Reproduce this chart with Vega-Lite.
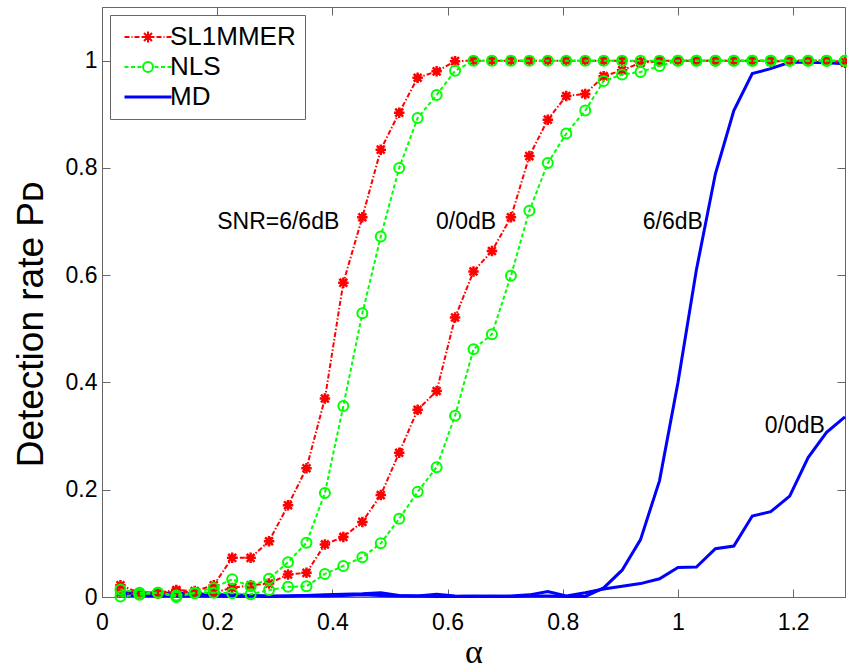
{
  "$schema": "https://vega.github.io/schema/vega-lite/v6.json",
  "width": 743,
  "height": 590,
  "autosize": "none",
  "padding": {"left": 102, "top": 7, "right": 2, "bottom": 72},
  "background": "white",
  "config": {
    "font": "Liberation Sans",
    "view": {"stroke": "#666666", "strokeWidth": 1},
    "axis": {
      "grid": false,
      "domainColor": "#666666",
      "tickColor": "#666666",
      "tickSize": -8,
      "labelFont": "Liberation Sans",
      "labelFontSize": 23,
      "labelColor": "#000000",
      "labelFlush": false,
      "labelOverlap": false,
      "titleColor": "#000000",
      "titleFontWeight": "normal"
    }
  },
  "datasets": {
    "curves": [
      {"m":"SL1MMER","s":"6","a":0.032,"p":0.022},{"m":"SL1MMER","s":"6","a":0.065,"p":0.008},{"m":"SL1MMER","s":"6","a":0.097,"p":0.008},{"m":"SL1MMER","s":"6","a":0.129,"p":0.013},{"m":"SL1MMER","s":"6","a":0.161,"p":0.011},{"m":"SL1MMER","s":"6","a":0.194,"p":0.022},{"m":"SL1MMER","s":"6","a":0.226,"p":0.073},{"m":"SL1MMER","s":"6","a":0.258,"p":0.073},{"m":"SL1MMER","s":"6","a":0.29,"p":0.104},{"m":"SL1MMER","s":"6","a":0.323,"p":0.171},
      {"m":"SL1MMER","s":"6","a":0.355,"p":0.24},{"m":"SL1MMER","s":"6","a":0.387,"p":0.37},{"m":"SL1MMER","s":"6","a":0.419,"p":0.586},{"m":"SL1MMER","s":"6","a":0.452,"p":0.708},{"m":"SL1MMER","s":"6","a":0.484,"p":0.834},{"m":"SL1MMER","s":"6","a":0.516,"p":0.903},{"m":"SL1MMER","s":"6","a":0.548,"p":0.968},{"m":"SL1MMER","s":"6","a":0.581,"p":0.98},{"m":"SL1MMER","s":"6","a":0.613,"p":0.999},{"m":"SL1MMER","s":"6","a":0.645,"p":1},
      {"m":"SL1MMER","s":"6","a":0.677,"p":1},{"m":"SL1MMER","s":"6","a":0.71,"p":1},{"m":"SL1MMER","s":"6","a":0.742,"p":1},{"m":"SL1MMER","s":"6","a":0.774,"p":1},{"m":"SL1MMER","s":"6","a":0.806,"p":1},{"m":"SL1MMER","s":"6","a":0.839,"p":1},{"m":"SL1MMER","s":"6","a":0.871,"p":1},{"m":"SL1MMER","s":"6","a":0.903,"p":1},{"m":"SL1MMER","s":"6","a":0.935,"p":0.998},{"m":"SL1MMER","s":"6","a":0.968,"p":1},
      {"m":"SL1MMER","s":"6","a":1.0,"p":1},{"m":"SL1MMER","s":"6","a":1.032,"p":1},{"m":"SL1MMER","s":"6","a":1.065,"p":1},{"m":"SL1MMER","s":"6","a":1.097,"p":1},{"m":"SL1MMER","s":"6","a":1.129,"p":1},{"m":"SL1MMER","s":"6","a":1.161,"p":1},{"m":"SL1MMER","s":"6","a":1.194,"p":1},{"m":"SL1MMER","s":"6","a":1.226,"p":1},{"m":"SL1MMER","s":"6","a":1.258,"p":1},{"m":"SL1MMER","s":"6","a":1.29,"p":0.998},

      {"m":"SL1MMER","s":"0","a":0.032,"p":0.008},{"m":"SL1MMER","s":"0","a":0.065,"p":0.005},{"m":"SL1MMER","s":"0","a":0.097,"p":0.006},{"m":"SL1MMER","s":"0","a":0.129,"p":0.011},{"m":"SL1MMER","s":"0","a":0.161,"p":0.008},{"m":"SL1MMER","s":"0","a":0.194,"p":0.008},{"m":"SL1MMER","s":"0","a":0.226,"p":0.017},{"m":"SL1MMER","s":"0","a":0.258,"p":0.022},{"m":"SL1MMER","s":"0","a":0.29,"p":0.025},{"m":"SL1MMER","s":"0","a":0.323,"p":0.042},
      {"m":"SL1MMER","s":"0","a":0.355,"p":0.045},{"m":"SL1MMER","s":"0","a":0.387,"p":0.098},{"m":"SL1MMER","s":"0","a":0.419,"p":0.112},{"m":"SL1MMER","s":"0","a":0.452,"p":0.14},{"m":"SL1MMER","s":"0","a":0.484,"p":0.19},{"m":"SL1MMER","s":"0","a":0.516,"p":0.269},{"m":"SL1MMER","s":"0","a":0.548,"p":0.349},{"m":"SL1MMER","s":"0","a":0.581,"p":0.384},{"m":"SL1MMER","s":"0","a":0.613,"p":0.521},{"m":"SL1MMER","s":"0","a":0.645,"p":0.607},
      {"m":"SL1MMER","s":"0","a":0.677,"p":0.645},{"m":"SL1MMER","s":"0","a":0.71,"p":0.708},{"m":"SL1MMER","s":"0","a":0.742,"p":0.822},{"m":"SL1MMER","s":"0","a":0.774,"p":0.89},{"m":"SL1MMER","s":"0","a":0.806,"p":0.934},{"m":"SL1MMER","s":"0","a":0.839,"p":0.938},{"m":"SL1MMER","s":"0","a":0.871,"p":0.971},{"m":"SL1MMER","s":"0","a":0.903,"p":0.982},{"m":"SL1MMER","s":"0","a":0.935,"p":0.996},{"m":"SL1MMER","s":"0","a":0.968,"p":0.999},
      {"m":"SL1MMER","s":"0","a":1.0,"p":1},{"m":"SL1MMER","s":"0","a":1.032,"p":1},{"m":"SL1MMER","s":"0","a":1.065,"p":1},{"m":"SL1MMER","s":"0","a":1.097,"p":1},{"m":"SL1MMER","s":"0","a":1.129,"p":1},{"m":"SL1MMER","s":"0","a":1.161,"p":0.998},{"m":"SL1MMER","s":"0","a":1.194,"p":1},{"m":"SL1MMER","s":"0","a":1.226,"p":1},{"m":"SL1MMER","s":"0","a":1.258,"p":1},{"m":"SL1MMER","s":"0","a":1.29,"p":0.996},

      {"m":"NLS","s":"6","a":0.032,"p":0.014},{"m":"NLS","s":"6","a":0.065,"p":0.008},{"m":"NLS","s":"6","a":0.097,"p":0.008},{"m":"NLS","s":"6","a":0.129,"p":0.003},{"m":"NLS","s":"6","a":0.161,"p":0.008},{"m":"NLS","s":"6","a":0.194,"p":0.017},{"m":"NLS","s":"6","a":0.226,"p":0.033},{"m":"NLS","s":"6","a":0.258,"p":0.02},{"m":"NLS","s":"6","a":0.29,"p":0.034},{"m":"NLS","s":"6","a":0.323,"p":0.065},
      {"m":"NLS","s":"6","a":0.355,"p":0.101},{"m":"NLS","s":"6","a":0.387,"p":0.194},{"m":"NLS","s":"6","a":0.419,"p":0.356},{"m":"NLS","s":"6","a":0.452,"p":0.529},{"m":"NLS","s":"6","a":0.484,"p":0.672},{"m":"NLS","s":"6","a":0.516,"p":0.8},{"m":"NLS","s":"6","a":0.548,"p":0.893},{"m":"NLS","s":"6","a":0.581,"p":0.936},{"m":"NLS","s":"6","a":0.613,"p":0.981},{"m":"NLS","s":"6","a":0.645,"p":1},
      {"m":"NLS","s":"6","a":0.677,"p":1},{"m":"NLS","s":"6","a":0.71,"p":1},{"m":"NLS","s":"6","a":0.742,"p":1},{"m":"NLS","s":"6","a":0.774,"p":1},{"m":"NLS","s":"6","a":0.806,"p":1},{"m":"NLS","s":"6","a":0.839,"p":1},{"m":"NLS","s":"6","a":0.871,"p":1},{"m":"NLS","s":"6","a":0.903,"p":1},{"m":"NLS","s":"6","a":0.935,"p":1},{"m":"NLS","s":"6","a":0.968,"p":1},
      {"m":"NLS","s":"6","a":1.0,"p":1},{"m":"NLS","s":"6","a":1.032,"p":1},{"m":"NLS","s":"6","a":1.065,"p":1},{"m":"NLS","s":"6","a":1.097,"p":1},{"m":"NLS","s":"6","a":1.129,"p":1},{"m":"NLS","s":"6","a":1.161,"p":1},{"m":"NLS","s":"6","a":1.194,"p":1},{"m":"NLS","s":"6","a":1.226,"p":1},{"m":"NLS","s":"6","a":1.258,"p":1},{"m":"NLS","s":"6","a":1.29,"p":1},

      {"m":"NLS","s":"0","a":0.032,"p":0.001},{"m":"NLS","s":"0","a":0.065,"p":0.004},{"m":"NLS","s":"0","a":0.097,"p":0.008},{"m":"NLS","s":"0","a":0.129,"p":0.0},{"m":"NLS","s":"0","a":0.161,"p":0.007},{"m":"NLS","s":"0","a":0.194,"p":0.008},{"m":"NLS","s":"0","a":0.226,"p":0.007},{"m":"NLS","s":"0","a":0.258,"p":0.005},{"m":"NLS","s":"0","a":0.29,"p":0.013},{"m":"NLS","s":"0","a":0.323,"p":0.019},
      {"m":"NLS","s":"0","a":0.355,"p":0.02},{"m":"NLS","s":"0","a":0.387,"p":0.043},{"m":"NLS","s":"0","a":0.419,"p":0.058},{"m":"NLS","s":"0","a":0.452,"p":0.074},{"m":"NLS","s":"0","a":0.484,"p":0.1},{"m":"NLS","s":"0","a":0.516,"p":0.146},{"m":"NLS","s":"0","a":0.548,"p":0.196},{"m":"NLS","s":"0","a":0.581,"p":0.242},{"m":"NLS","s":"0","a":0.613,"p":0.338},{"m":"NLS","s":"0","a":0.645,"p":0.462},
      {"m":"NLS","s":"0","a":0.677,"p":0.49},{"m":"NLS","s":"0","a":0.71,"p":0.599},{"m":"NLS","s":"0","a":0.742,"p":0.72},{"m":"NLS","s":"0","a":0.774,"p":0.809},{"m":"NLS","s":"0","a":0.806,"p":0.864},{"m":"NLS","s":"0","a":0.839,"p":0.907},{"m":"NLS","s":"0","a":0.871,"p":0.962},{"m":"NLS","s":"0","a":0.903,"p":0.974},{"m":"NLS","s":"0","a":0.935,"p":0.979},{"m":"NLS","s":"0","a":0.968,"p":0.99},
      {"m":"NLS","s":"0","a":1.0,"p":1},{"m":"NLS","s":"0","a":1.032,"p":1},{"m":"NLS","s":"0","a":1.065,"p":1},{"m":"NLS","s":"0","a":1.097,"p":1},{"m":"NLS","s":"0","a":1.129,"p":1},{"m":"NLS","s":"0","a":1.161,"p":1},{"m":"NLS","s":"0","a":1.194,"p":1},{"m":"NLS","s":"0","a":1.226,"p":1},{"m":"NLS","s":"0","a":1.258,"p":1},{"m":"NLS","s":"0","a":1.29,"p":1},

      {"m":"MD","s":"6","a":0.032,"p":0.008},{"m":"MD","s":"6","a":0.065,"p":0.008},{"m":"MD","s":"6","a":0.097,"p":0.007},{"m":"MD","s":"6","a":0.129,"p":0.007},{"m":"MD","s":"6","a":0.161,"p":0.006},{"m":"MD","s":"6","a":0.194,"p":0.004},{"m":"MD","s":"6","a":0.226,"p":0.004},{"m":"MD","s":"6","a":0.258,"p":0.003},{"m":"MD","s":"6","a":0.29,"p":0.002},{"m":"MD","s":"6","a":0.323,"p":0.002},
      {"m":"MD","s":"6","a":0.355,"p":0.003},{"m":"MD","s":"6","a":0.387,"p":0.002},{"m":"MD","s":"6","a":0.419,"p":0.003},{"m":"MD","s":"6","a":0.452,"p":0.004},{"m":"MD","s":"6","a":0.484,"p":0.003},{"m":"MD","s":"6","a":0.516,"p":0.002},{"m":"MD","s":"6","a":0.548,"p":0.002},{"m":"MD","s":"6","a":0.581,"p":0.005},{"m":"MD","s":"6","a":0.613,"p":0.002},{"m":"MD","s":"6","a":0.645,"p":0.001},
      {"m":"MD","s":"6","a":0.677,"p":0.002},{"m":"MD","s":"6","a":0.71,"p":0.001},{"m":"MD","s":"6","a":0.742,"p":0.002},{"m":"MD","s":"6","a":0.774,"p":0.002},{"m":"MD","s":"6","a":0.806,"p":0.001},{"m":"MD","s":"6","a":0.839,"p":0.001},{"m":"MD","s":"6","a":0.871,"p":0.017},{"m":"MD","s":"6","a":0.903,"p":0.05},{"m":"MD","s":"6","a":0.935,"p":0.107},{"m":"MD","s":"6","a":0.968,"p":0.217},
      {"m":"MD","s":"6","a":1.0,"p":0.4},{"m":"MD","s":"6","a":1.032,"p":0.61},{"m":"MD","s":"6","a":1.065,"p":0.789},{"m":"MD","s":"6","a":1.097,"p":0.907},{"m":"MD","s":"6","a":1.129,"p":0.976},{"m":"MD","s":"6","a":1.161,"p":0.985},{"m":"MD","s":"6","a":1.194,"p":0.997},{"m":"MD","s":"6","a":1.226,"p":0.997},{"m":"MD","s":"6","a":1.258,"p":0.996},{"m":"MD","s":"6","a":1.29,"p":0.994},

      {"m":"MD","s":"0","a":0.032,"p":0.003},{"m":"MD","s":"0","a":0.065,"p":0.003},{"m":"MD","s":"0","a":0.097,"p":0.002},{"m":"MD","s":"0","a":0.129,"p":0.002},{"m":"MD","s":"0","a":0.161,"p":0.002},{"m":"MD","s":"0","a":0.194,"p":0.002},{"m":"MD","s":"0","a":0.226,"p":0.001},{"m":"MD","s":"0","a":0.258,"p":0.002},{"m":"MD","s":"0","a":0.29,"p":0.001},{"m":"MD","s":"0","a":0.323,"p":0.002},
      {"m":"MD","s":"0","a":0.355,"p":0.003},{"m":"MD","s":"0","a":0.387,"p":0.004},{"m":"MD","s":"0","a":0.419,"p":0.005},{"m":"MD","s":"0","a":0.452,"p":0.006},{"m":"MD","s":"0","a":0.484,"p":0.008},{"m":"MD","s":"0","a":0.516,"p":0.003},{"m":"MD","s":"0","a":0.548,"p":0.002},{"m":"MD","s":"0","a":0.581,"p":0.001},{"m":"MD","s":"0","a":0.613,"p":0.001},{"m":"MD","s":"0","a":0.645,"p":0.002},
      {"m":"MD","s":"0","a":0.677,"p":0.001},{"m":"MD","s":"0","a":0.71,"p":0.002},{"m":"MD","s":"0","a":0.742,"p":0.004},{"m":"MD","s":"0","a":0.774,"p":0.01},{"m":"MD","s":"0","a":0.806,"p":0.002},{"m":"MD","s":"0","a":0.839,"p":0.008},{"m":"MD","s":"0","a":0.871,"p":0.015},{"m":"MD","s":"0","a":0.903,"p":0.02},{"m":"MD","s":"0","a":0.935,"p":0.025},{"m":"MD","s":"0","a":0.968,"p":0.034},
      {"m":"MD","s":"0","a":1.0,"p":0.055},{"m":"MD","s":"0","a":1.032,"p":0.056},{"m":"MD","s":"0","a":1.065,"p":0.09},{"m":"MD","s":"0","a":1.097,"p":0.095},{"m":"MD","s":"0","a":1.129,"p":0.151},{"m":"MD","s":"0","a":1.161,"p":0.159},{"m":"MD","s":"0","a":1.194,"p":0.188},{"m":"MD","s":"0","a":1.226,"p":0.26},{"m":"MD","s":"0","a":1.258,"p":0.307},{"m":"MD","s":"0","a":1.29,"p":0.336}
    ],
    "notes": [
      {"a":0.306,"p":0.70,"t":"SNR=6/6dB"},
      {"a":0.632,"p":0.70,"t":"0/0dB"},
      {"a":0.991,"p":0.70,"t":"6/6dB"},
      {"a":1.203,"p":0.318,"t":"0/0dB"}
    ]
  },
  "resolve": {"axis": {"x": "independent", "y": "independent"}},
  "layer": [
    {
      "data": {"name": "curves"},
      "transform": [{"filter": "datum.m === 'MD'"}],
      "mark": {"type": "line", "strokeWidth": 3},
      "encoding": {
        "x": {"field": "a", "type": "quantitative", "scale": {"domain": [0, 1.29], "nice": false, "zero": false},
              "axis": {"orient": "bottom", "values": [0,0.2,0.4,0.6,0.8,1,1.2], "format": "~g", "labelPadding": 22,
                       "title": "α", "titleFont": "Liberation Serif", "titleFontSize": 34,
                       "titleBaseline": "alphabetic", "titleY": 65}},
        "y": {"field": "p", "type": "quantitative", "scale": {"domain": [0, 1.1], "nice": false},
              "axis": {"orient": "left", "values": [0,0.2,0.4,0.6,0.8,1], "format": "~g", "labelPadding": 13,
                       "title": "Detection rate Pᴅ", "titleFontSize": 37, "titleFont": "Liberation Sans",
                       "titleBaseline": "bottom", "titleX": -52, "titleY": 317, "titleAngle": -90}},
        "color": {"field": "m", "type": "nominal",
                  "scale": {"domain": ["SL1MMER", "NLS", "MD"], "range": ["#ff0000", "#00ff00", "#0000ff"]},
                  "legend": {
                    "orient": "none", "legendX": 8, "legendY": 8, "title": null,
                    "fillColor": "white", "strokeColor": "#666666", "padding": 9, "rowPadding": 4,
                    "labelFont": "Liberation Sans", "labelFontSize": 26, "labelColor": "#000000",
                    "symbolSize": 100, "symbolStrokeWidth": 2, "symbolOffset": 16, "labelOffset": 9,
                    "encode": {"symbols": {"update": {
                      "shape": {"signal": "datum.value === 'SL1MMER' ? 'M-4.7,0H-3.7M-3.3,0H-3.1M-2.7,0H-1.7M-1.3,0H-1.1M1.1,0H1.3M1.7,0H2.7M3.1,0H3.3M3.7,0H4.7M-1.1,0H1.1M0,-1.1V1.1M-0.8,-0.8L0.8,0.8M-0.8,0.8L0.8,-0.8' : datum.value === 'NLS' ? 'M-4.7,0H-3.9M-3.4,0H-2.6M-2.1,0H-1.3M1.3,0H2.1M2.6,0H3.4M3.9,0H4.7M1,0A1,1 0 1,1 -1,0A1,1 0 1,1 1,0' : 'M-4.7,0H4.7'"},
                      "fill": {"value": "transparent"},
                      "strokeDash": {"value": []},
                      "opacity": {"value": 1},
                      "strokeWidth": {"signal": "datum.value === 'MD' ? 3 : 2"}
                    }}}
                  }},
        "detail": {"field": "s"}
      }
    },
    {
      "data": {"name": "curves"},
      "transform": [{"filter": "datum.m === 'SL1MMER'"}],
      "mark": {"type": "line", "strokeWidth": 2, "strokeDash": [5, 2, 1.5, 2]},
      "encoding": {
        "x": {"field": "a", "type": "quantitative", "axis": null},
        "y": {"field": "p", "type": "quantitative", "axis": null},
        "color": {"field": "m", "type": "nominal"},
        "detail": {"field": "s"}
      }
    },
    {
      "data": {"name": "curves"},
      "transform": [{"filter": "datum.m === 'SL1MMER'"}],
      "mark": {"type": "point", "filled": false, "opacity": 1, "strokeWidth": 2.5, "size": 110,
               "shape": "M-1,0H1M0,-1V1M-0.75,-0.75L0.75,0.75M-0.75,0.75L0.75,-0.75"},
      "encoding": {
        "x": {"field": "a", "type": "quantitative", "axis": null},
        "y": {"field": "p", "type": "quantitative", "axis": null},
        "color": {"field": "m", "type": "nominal"}
      }
    },
    {
      "data": {"name": "curves"},
      "transform": [{"filter": "datum.m === 'NLS'"}],
      "mark": {"type": "line", "strokeWidth": 2, "strokeDash": [4, 2.5]},
      "encoding": {
        "x": {"field": "a", "type": "quantitative", "axis": null},
        "y": {"field": "p", "type": "quantitative", "axis": null},
        "color": {"field": "m", "type": "nominal"},
        "detail": {"field": "s"}
      }
    },
    {
      "data": {"name": "curves"},
      "transform": [{"filter": "datum.m === 'NLS'"}],
      "mark": {"type": "point", "filled": false, "opacity": 1, "strokeWidth": 2, "size": 100, "shape": "circle"},
      "encoding": {
        "x": {"field": "a", "type": "quantitative", "axis": null},
        "y": {"field": "p", "type": "quantitative", "axis": null},
        "color": {"field": "m", "type": "nominal"}
      }
    },
    {
      "data": {"name": "notes"},
      "mark": {"type": "text", "font": "Liberation Sans", "fontSize": 23, "color": "#000000", "align": "center", "baseline": "middle"},
      "encoding": {
        "x": {"field": "a", "type": "quantitative", "axis": null},
        "y": {"field": "p", "type": "quantitative", "axis": null},
        "text": {"field": "t"}
      }
    },
    {
      "data": {"name": "notes"},
      "mark": {"type": "point", "opacity": 0},
      "encoding": {
        "x": {"field": "a", "type": "quantitative",
              "axis": {"orient": "top", "values": [0,0.2,0.4,0.6,0.8,1,1.2], "labels": false, "title": null, "domain": false}},
        "y": {"field": "p", "type": "quantitative",
              "axis": {"orient": "right", "values": [0,0.2,0.4,0.6,0.8,1], "labels": false, "title": null, "domain": false}}
      }
    }
  ]
}
